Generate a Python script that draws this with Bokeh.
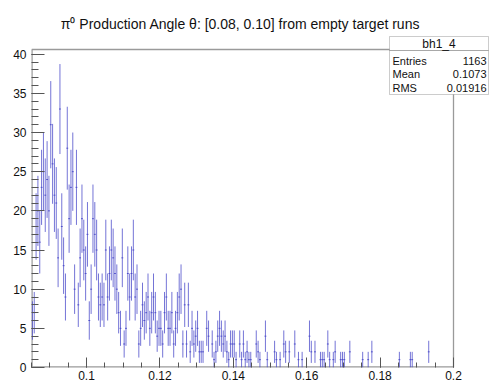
import numpy as np
from bokeh.plotting import figure
from bokeh.models import Label, PolyAnnotation, FixedTicker, ColumnDataSource
from bokeh.embed import file_html
from bokeh.resources import INLINE

# histogram binning (theta)
x_min = 0.085
x_max = 0.2
bin_width = 0.0005

# entries per bin, starting at x_min
counts = [
    6, 7, 18, 20, 16, 23, 25, 22, 24, 20,
    31, 26, 22, 21, 14, 33, 18, 13, 9, 28,
    19, 23, 25, 10, 23, 8, 14, 19, 15, 12,
    17, 6, 10, 19, 17, 15, 9, 8, 9, 8,
    15, 9, 12, 15, 14, 12, 10, 7, 5, 14,
    3, 5, 12, 9, 12, 15, 9, 10, 3, 5,
    8, 6, 7, 9, 5, 7, 9, 7, 4, 5,
    5, 3, 7, 9, 5, 5, 7, 3, 5, 7,
    9, 10, 3, 8, 3, 8, 2, 5, 3, 4,
    5, 2, 2, 2, 0, 5, 4, 0, 3, 1,
    2, 4, 5, 4, 3, 4, 2, 1, 3, 3,
    3, 1, 0, 3, 1, 3, 1, 2, 1, 1,
    0, 0, 3, 2, 1, 0, 0, 4, 1, 0,
    0, 0, 2, 1, 0, 1, 0, 3, 2, 0,
    2, 0, 0, 3, 0, 1, 0, 1, 0, 0,
    0, 4, 2, 0, 2, 0, 0, 1, 1, 1,
    0, 3, 1, 0, 1, 2, 0, 0, 1, 1,
    1, 0, 0, 2, 0, 0, 0, 0, 0, 0,
    1, 0, 0, 1, 0, 2, 0, 0, 0, 0,
    0, 0, 0, 0, 0, 0, 0, 0, 0, 0,
    1, 0, 0, 0, 0, 0, 1, 1, 0, 0,
    0, 0, 0, 0, 0, 0, 2, 0, 0, 0,
    0, 0, 0, 0, 0, 0, 0, 0, 0, 0,
]

y_max = 40.6
x_major = [0.1, 0.12, 0.14, 0.16, 0.18, 0.2]
x_labels = ["0.1", "0.12", "0.14", "0.16", "0.18", "0.2"]
y_major = [0, 5, 10, 15, 20, 25, 30, 35, 40]

title_text = "\u03c0\u2070 Production Angle \u03b8: [0.08, 0.10] from empty target runs"
stats_name = "bh1_4"
stats_keys = ["Entries", "Mean", "RMS"]
stats_vals = ["1163", "0.1073", "0.01916"]

FONT = "Liberation Sans"
W, H = 489, 385

# pad layout: histogram frame spans canvas x 31..453, y 49..367;
# the plotting area is widened to the canvas so the title and the
# statistics box can be drawn as annotations
LEFT, BOTTOM = 31, 367
HIST_RIGHT, HIST_TOP = 453, 49
px_per_x = (HIST_RIGHT - LEFT) / (x_max - x_min)
px_per_y = (BOTTOM - HIST_TOP) / y_max
view_x_end = x_min + (W - LEFT) / px_per_x
view_y_end = BOTTOM / px_per_y

def fx(cx):
    # canvas column -> frame screen x
    return cx - LEFT

def fy(cy):
    # canvas row (from top) -> frame screen y (from bottom)
    return BOTTOM - cy

c = np.array(counts, dtype=float)
centers = x_min + (np.arange(len(c)) + 0.5) * bin_width
filled = c > 0
err = np.sqrt(c)
src = ColumnDataSource(dict(
    x=centers[filled], y=c[filled],
    lo=(c - err)[filled], hi=(c + err)[filled],
    l=(centers - bin_width / 2)[filled], r=(centers + bin_width / 2)[filled],
))

p = figure(width=W, height=H, x_range=(x_min, view_x_end), y_range=(0, view_y_end),
           output_backend="svg", toolbar_location=None,
           min_border_left=LEFT, min_border_right=0,
           min_border_top=0, min_border_bottom=H - BOTTOM)
p.background_fill_color = "white"
p.border_fill_color = "white"
p.grid.visible = False
p.outline_line_color = None

# histogram frame
frame_color = "#9a9a9a"
p.segment(x0=[x_min, x_min, x_min, x_max], y0=[0, 0, y_max, 0],
          x1=[x_min, x_max, x_max, x_max], y1=[y_max, 0, y_max, y_max],
          line_color=frame_color, line_width=[2.4, 2.4, 1.3, 1.3])

bar_color = "#4646c8"
p.segment(x0="x", y0="lo", x1="x", y1="hi", source=src,
          line_color=bar_color, line_alpha=0.75, line_width=1)
p.segment(x0="l", y0="y", x1="r", y1="y", source=src,
          line_color=bar_color, line_alpha=0.9, line_width=1)

# axes drawn ROOT style: ticks inside the frame
xa = p.xaxis[0]
xa.ticker = FixedTicker(ticks=x_major,
                        minor_ticks=[round(x_min + 0.005 * i, 4) for i in range(24)])
xa.major_label_overrides = {t: s for t, s in zip(x_major, x_labels)}
xa.major_tick_in, xa.major_tick_out = 10, 0
xa.minor_tick_in, xa.minor_tick_out = 5, 0
xa.major_label_standoff = 3

ya = p.yaxis[0]
ya.ticker = FixedTicker(ticks=y_major, minor_ticks=list(range(0, 41)))
ya.major_tick_in, ya.major_tick_out = 13, 0
ya.minor_tick_in, ya.minor_tick_out = 7, 0
ya.major_label_standoff = 5

for ax in (xa, ya):
    ax.axis_line_color = None
    ax.major_tick_line_color = "#555555"
    ax.minor_tick_line_color = "#555555"
    ax.major_label_text_font = FONT
    ax.major_label_text_font_size = "12px"
    ax.major_label_text_color = "#111111"

p.add_layout(Label(x=fx(240), y=fy(23), x_units="screen", y_units="screen",
                   text=title_text, text_font=FONT, text_font_size="14px",
                   text_align="center", text_baseline="middle", text_color="#111111"))

# statistics box
bx0, bx1, by0, by1, bsep = 389, 488, 36, 94, 50
p.add_layout(PolyAnnotation(xs=[fx(bx0), fx(bx1), fx(bx1), fx(bx0)],
                            ys=[fy(by0), fy(by0), fy(by1), fy(by1)],
                            xs_units="screen", ys_units="screen",
                            fill_color="white", fill_alpha=1.0,
                            line_color="#555555", line_width=1))
p.add_layout(PolyAnnotation(xs=[fx(bx0), fx(bx1), fx(bx1), fx(bx0)],
                            ys=[fy(bsep), fy(bsep), fy(bsep), fy(bsep)],
                            xs_units="screen", ys_units="screen",
                            fill_alpha=0, line_color="#555555", line_width=1))
p.add_layout(Label(x=fx((bx0 + bx1) / 2), y=fy(43), x_units="screen", y_units="screen",
                   text=stats_name, text_font=FONT, text_font_size="12px",
                   text_align="center", text_baseline="middle", text_color="#111111"))
for i, (k, v) in enumerate(zip(stats_keys, stats_vals)):
    yy = fy(60 + 13.5 * i)
    p.add_layout(Label(x=fx(bx0 + 3), y=yy, x_units="screen", y_units="screen",
                       text=k, text_font=FONT, text_font_size="11px",
                       text_align="left", text_baseline="middle", text_color="#111111"))
    p.add_layout(Label(x=fx(bx1 - 2), y=yy, x_units="screen", y_units="screen",
                       text=v, text_font=FONT, text_font_size="11px",
                       text_align="right", text_baseline="middle", text_color="#111111"))

open("out.html", "w").write(file_html(p, INLINE))
